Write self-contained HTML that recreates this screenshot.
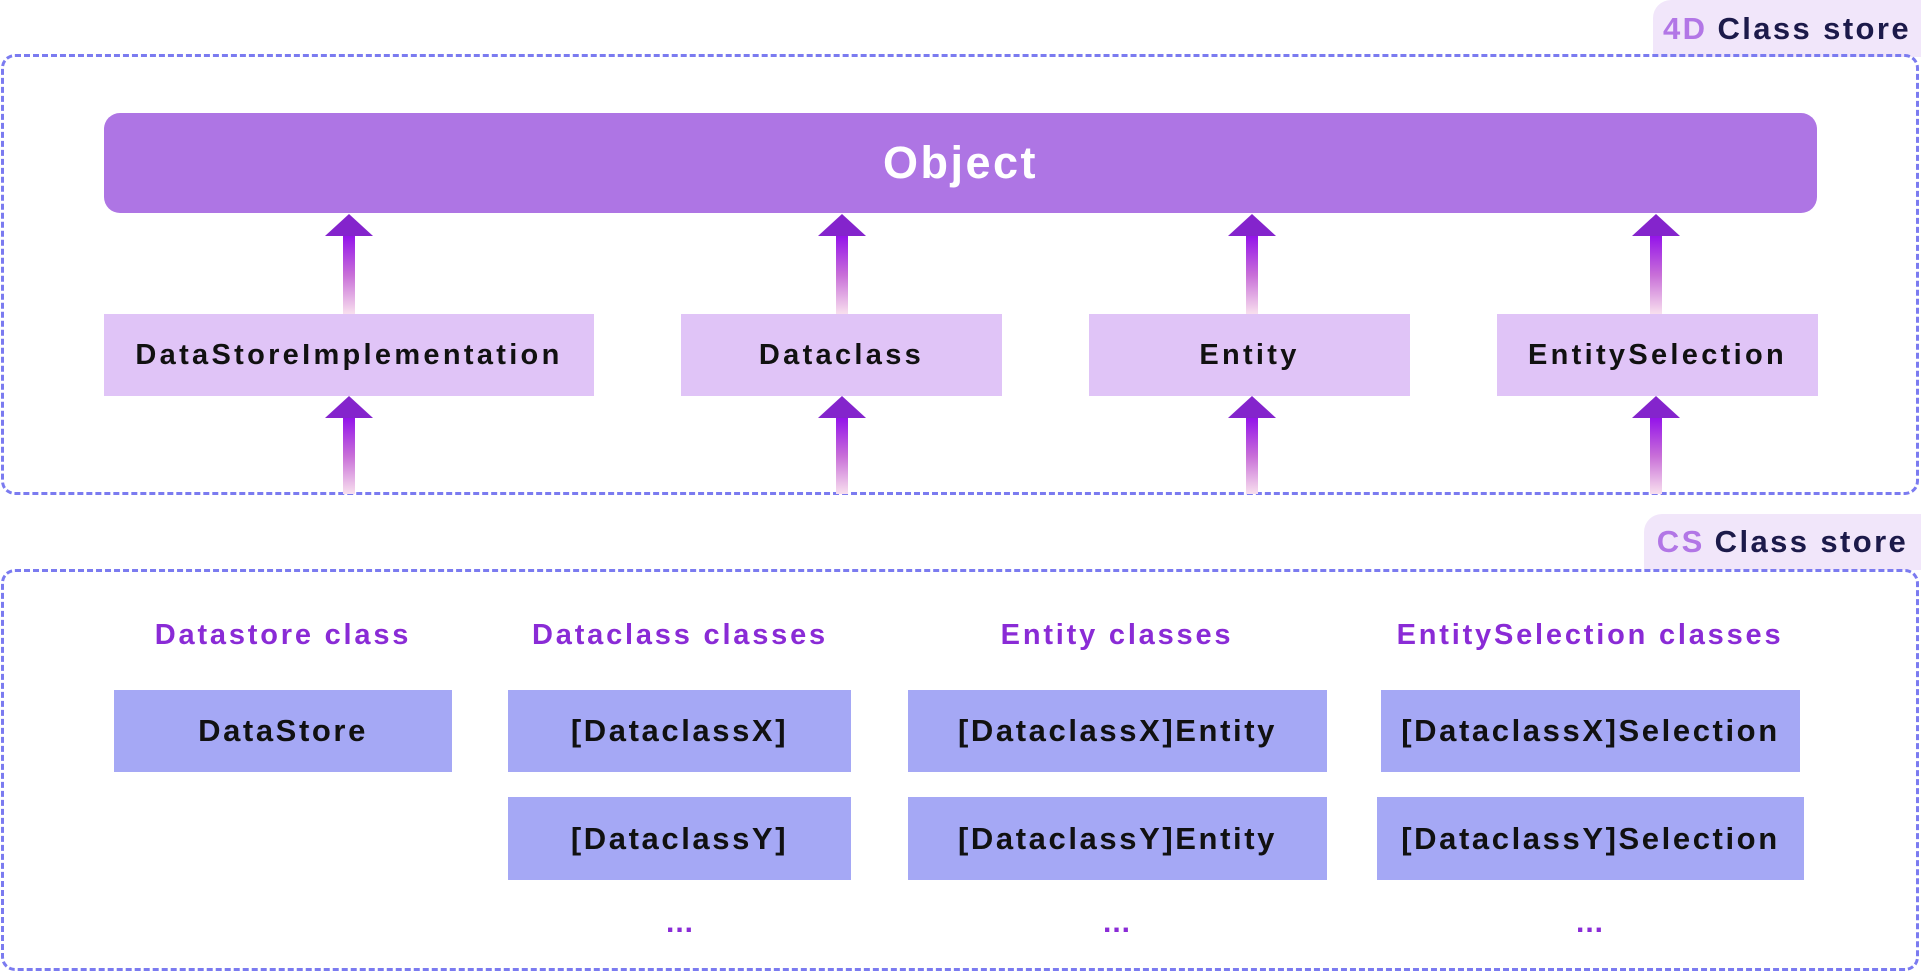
<!DOCTYPE html>
<html><head><meta charset="utf-8"><style>
body{margin:0;width:1921px;height:971px;background:#fff;position:relative;overflow:hidden;font-family:"Liberation Sans",sans-serif;font-weight:bold}
.a{position:absolute}
.dash{position:absolute;border:3px dashed #7b7bf0;border-radius:14px;box-sizing:border-box}
.tab{position:absolute;background:#f1e6fa;border-radius:18px 0 0 0;font-size:31px;letter-spacing:2.4px;color:#1c1a4a;display:flex;align-items:center;justify-content:center}
.tab span{color:#b276e6;margin-right:10px}
.b1{position:absolute;background:#e0c4f7;display:flex;align-items:center;justify-content:center;font-size:29px;letter-spacing:3.3px;color:#111}
.b2{position:absolute;background:#a5a8f5;display:flex;align-items:center;justify-content:center;font-size:31px;letter-spacing:2.6px;color:#111}
.h{position:absolute;font-size:29px;letter-spacing:2.8px;color:#8a2bd6;transform:translateX(-50%);white-space:nowrap}
.dot{position:absolute;font-size:30px;letter-spacing:1px;color:#8a2bd6;transform:translateX(-50%);line-height:1}
.arr{position:absolute;width:48px}
.arr .hd{width:0;height:0;border-left:24px solid transparent;border-right:24px solid transparent;border-bottom:22px solid #8424cc}
.arr .sh{margin-left:18px;width:12px;background:linear-gradient(#9414ea,#c86fd8 50%,#f8e0ee)}
</style></head><body>
<div class="tab" style="left:1653px;top:0;width:268px;height:57px"><span>4D</span>Class store</div>
<div class="dash" style="left:1px;top:54px;width:1918px;height:441px"></div>
<div class="a" style="left:104px;top:113px;width:1713px;height:100px;background:#ae75e4;border-radius:16px;color:#fff;font-size:45px;letter-spacing:2.5px;display:flex;align-items:center;justify-content:center">Object</div>

<div class="b1" style="left:104px;top:314px;width:490px;height:82px">DataStoreImplementation</div>
<div class="b1" style="left:681px;top:314px;width:321px;height:82px">Dataclass</div>
<div class="b1" style="left:1089px;top:314px;width:321px;height:82px">Entity</div>
<div class="b1" style="left:1497px;top:314px;width:321px;height:82px">EntitySelection</div>

<div class="arr" style="left:325px;top:214px"><div class="hd"></div><div class="sh" style="height:78px"></div></div>
<div class="arr" style="left:818px;top:214px"><div class="hd"></div><div class="sh" style="height:78px"></div></div>
<div class="arr" style="left:1228px;top:214px"><div class="hd"></div><div class="sh" style="height:78px"></div></div>
<div class="arr" style="left:1632px;top:214px"><div class="hd"></div><div class="sh" style="height:78px"></div></div>
<div class="arr" style="left:325px;top:396px"><div class="hd"></div><div class="sh" style="height:76px"></div></div>
<div class="arr" style="left:818px;top:396px"><div class="hd"></div><div class="sh" style="height:76px"></div></div>
<div class="arr" style="left:1228px;top:396px"><div class="hd"></div><div class="sh" style="height:76px"></div></div>
<div class="arr" style="left:1632px;top:396px"><div class="hd"></div><div class="sh" style="height:76px"></div></div>

<div class="tab" style="left:1644px;top:514px;width:277px;height:56px"><span>CS</span>Class store</div>
<div class="dash" style="left:1px;top:569px;width:1918px;height:402px"></div>

<div class="h" style="left:283px;top:619px">Datastore class</div>
<div class="h" style="left:680px;top:619px">Dataclass classes</div>
<div class="h" style="left:1117px;top:619px">Entity classes</div>
<div class="h" style="left:1590px;top:619px">EntitySelection classes</div>

<div class="b2" style="left:114px;top:690px;width:338px;height:82px">DataStore</div>
<div class="b2" style="left:508px;top:690px;width:343px;height:82px">[DataclassX]</div>
<div class="b2" style="left:908px;top:690px;width:419px;height:82px">[DataclassX]Entity</div>
<div class="b2" style="left:1381px;top:690px;width:419px;height:82px">[DataclassX]Selection</div>
<div class="b2" style="left:508px;top:797px;width:343px;height:83px">[DataclassY]</div>
<div class="b2" style="left:908px;top:797px;width:419px;height:83px">[DataclassY]Entity</div>
<div class="b2" style="left:1377px;top:797px;width:427px;height:83px">[DataclassY]Selection</div>

<div class="dot" style="left:680px;top:908px">...</div>
<div class="dot" style="left:1117px;top:908px">...</div>
<div class="dot" style="left:1590px;top:908px">...</div>
</body></html>
